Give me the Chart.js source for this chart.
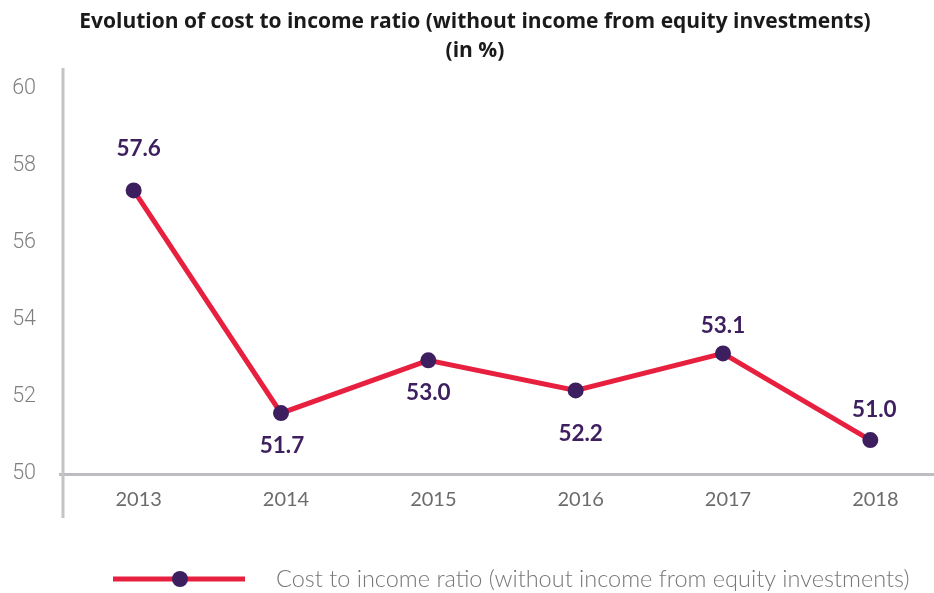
<!DOCTYPE html>
<html>
<head>
<meta charset="utf-8">
<script src="https://cdn.jsdelivr.net/npm/chart.js@4.4.1/dist/chart.umd.min.js"></script>
<style>
  html, body { margin: 0; padding: 0; background: #fff; overflow: hidden; }
  #wrap { width: 952px; height: 593px; }
</style>
</head>
<body>
<div id="wrap"><canvas id="ratioChart" width="952" height="593"></canvas></div>
<script>
const years = ['2013', '2014', '2015', '2016', '2017', '2018'];
const ratioValues = [57.36, 51.58, 52.95, 52.17, 53.13, 50.88];
const ratioLabels = ['57.6', '51.7', '53.0', '52.2', '53.1', '51.0'];
const yTicks = [50, 52, 54, 56, 58, 60];
const seriesName = 'Cost to income ratio (without income from equity investments)';

const lineRed = '#e8203f';
const dotPurple = '#3d1e5e';

// where each value label sits relative to its point (px)
const labelShift = [[5, -42], [1, 33], [0, 32], [5, 43], [0, -28], [4, -30]];

const valueLabels = {
    id: 'valueLabels',
    afterDatasetsDraw(chart) {
        const ctx = chart.ctx;
        const pts = chart.getDatasetMeta(0).data;
        ctx.save();
        ctx.font = 'bold 22.5px Lato';
        ctx.fillStyle = dotPurple;
        ctx.textAlign = 'center';
        ctx.textBaseline = 'middle';
        pts.forEach((p, i) => {
            ctx.fillText(ratioLabels[i], p.x + labelShift[i][0], p.y + labelShift[i][1]);
        });
        ctx.restore();
    }
};

const extras = {
    id: 'extras',
    afterDraw(chart) {
        const ctx = chart.ctx;
        const area = chart.chartArea;
        ctx.save();
        // long y axis line
        ctx.strokeStyle = '#c4c4c8';
        ctx.lineWidth = 3;
        ctx.beginPath();
        ctx.moveTo(63, 68);
        ctx.lineTo(63, 518);
        ctx.stroke();
        // legend
        const ly = 579;
        ctx.strokeStyle = lineRed;
        ctx.lineWidth = 5;
        ctx.beginPath();
        ctx.moveTo(113, ly);
        ctx.lineTo(245, ly);
        ctx.stroke();
        ctx.fillStyle = dotPurple;
        ctx.beginPath();
        ctx.arc(180, ly, 8, 0, Math.PI * 2);
        ctx.fill();
        ctx.font = '300 23.5px Lato';
        ctx.fillStyle = '#777';
        ctx.textAlign = 'left';
        ctx.textBaseline = 'middle';
        ctx.fillText(seriesName, 276, ly);
        ctx.restore();
    }
};

const ratioChart = new Chart(document.getElementById('ratioChart'), {
    type: 'line',
    data: {
        labels: years,
        datasets: [{
            label: seriesName,
            data: ratioValues,
            borderColor: lineRed,
            borderWidth: 5,
            pointBackgroundColor: dotPurple,
            pointBorderWidth: 0,
            pointRadius: 8,
            tension: 0,
        }]
    },
    options: {
        responsive: false,
        animation: false,
        layout: { padding: { right: 2, left: 0, top: 0, bottom: 0 } },
        plugins: {
            legend: { display: false },
            tooltip: { enabled: false },
            title: {
                display: true,
                text: ['Evolution of cost to income ratio (without income from equity investments)', '(in %)'],
                color: '#1a1a1a',
                font: { family: 'Open Sans', size: 21, weight: 'bold', lineHeight: 1.35 },
                padding: { top: 8, bottom: 24 },
            },
        },
        scales: {
            x: {
                offset: true,
                grid: { display: false, drawTicks: false },
                border: { display: true, color: '#bdbdc1', width: 3 },
                ticks: {
                    color: '#6b6b6b',
                    font: { family: 'Lato', size: 20 },
                    padding: 14,
                    labelOffset: 5,
                },
                afterFit(scale) { scale.height = 119; },
            },
            y: {
                min: 50,
                max: 60,
                afterBuildTicks(scale) { scale.ticks = yTicks.map(v => ({ value: v })); },
                grid: { display: false, drawTicks: false },
                border: { display: false },
                ticks: {
                    color: '#808080',
                    font: { family: 'Roboto', size: 21.5, weight: 300 },
                    padding: 24,
                },
                afterFit(scale) { scale.width = 60; },
            },
        },
    },
    plugins: [valueLabels, extras],
});
</script>
</body>
</html>
